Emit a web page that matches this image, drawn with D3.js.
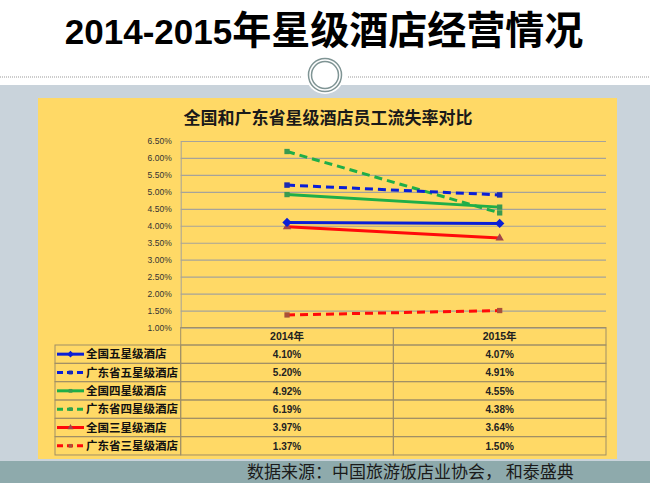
<!DOCTYPE html>
<html lang="zh">
<head>
<meta charset="utf-8">
<title>2014-2015年星级酒店经营情况</title>
<script src="https://cdn.jsdelivr.net/npm/d3@7/dist/d3.min.js"></script>
<style>
  body { margin: 0; background: #fff; }
  svg { display: block; }
  .cjk { font-family: "Noto Sans CJK SC", sans-serif; }
  .num { font-family: "Liberation Sans", Arial, sans-serif; }
</style>
</head>
<body>
<script>
// data
var years = ["2014年", "2015年"];
var seriesNames = ["全国五星级酒店", "广东省五星级酒店", "全国四星级酒店", "广东省四星级酒店", "全国三星级酒店", "广东省三星级酒店"];
var values2014 = [4.10, 5.20, 4.92, 6.19, 3.97, 1.37];
var values2015 = [4.07, 4.91, 4.55, 4.38, 3.64, 1.50];
var yTicks = [1.0, 1.5, 2.0, 2.5, 3.0, 3.5, 4.0, 4.5, 5.0, 5.5, 6.0, 6.5];

var colors = ["#0a1fd6", "#0a1fd6", "#1fae48", "#1fae48", "#ff0a0a", "#ff0a0a"];
var markerColors = ["#0a1fd6", "#1a2ab0", "#3a9a50", "#3a9a50", "#a0454a", "#a8503a"];
var dashed = [false, true, false, true, false, true];
var markers = [d3.symbolSquare, d3.symbolSquare, d3.symbolSquare, d3.symbolSquare, d3.symbolTriangle, d3.symbolSquare];
var markerRotate = [45, 0, 0, 0, 0, 0];
var markerSize = [44, 30, 28, 28, 30, 28];

var w = 650, h = 483;
var svg = d3.select("body").append("svg").attr("width", w).attr("height", h);

// page background
svg.append("rect").attr("x", 0).attr("y", 85).attr("width", w).attr("height", h - 85).attr("fill", "#c9d3db");
svg.append("rect").attr("x", 0).attr("y", 461).attr("width", w).attr("height", 22).attr("fill", "#8eaaac");
svg.append("rect").attr("x", 38).attr("y", 98).attr("width", 579).attr("height", 361).attr("fill", "#ffd966");

// page title
var title = svg.append("text").attr("x", 324).attr("y", 44).attr("text-anchor", "middle")
  .attr("font-weight", "bold").attr("fill", "#000");
title.append("tspan").attr("class", "num").attr("font-size", "35px").text("2014-2015");
title.append("tspan").attr("class", "cjk").attr("font-size", "39px").text("年星级酒店经营情况");

// dotted rule with ornament
svg.append("line").attr("x1", 0).attr("x2", 302).attr("y1", 77).attr("y2", 77)
  .attr("stroke", "#999").attr("stroke-dasharray", "1,1");
svg.append("line").attr("x1", 348).attr("x2", w).attr("y1", 77).attr("y2", 77)
  .attr("stroke", "#999").attr("stroke-dasharray", "1,1");
svg.append("circle").attr("cx", 325).attr("cy", 75).attr("r", 19).attr("fill", "#fff");
svg.append("circle").attr("cx", 325).attr("cy", 75).attr("r", 16.5).attr("fill", "none").attr("stroke", "#7f9494").attr("stroke-width", 1.5);
svg.append("circle").attr("cx", 325).attr("cy", 75).attr("r", 13.5).attr("fill", "none").attr("stroke", "#7f9494").attr("stroke-width", 1.5);

// chart title
svg.append("text").attr("class", "cjk").attr("x", 328).attr("y", 124).attr("text-anchor", "middle")
  .attr("font-size", "17px").attr("font-weight", "bold").attr("fill", "#1a1a1a")
  .text("全国和广东省星级酒店员工流失率对比");

// scales
var plotLeft = 180.7, plotRight = 606, plotTop = 141, plotBottom = 327.5;
var x = d3.scaleBand().domain(years).range([plotLeft, plotRight]);
var y = d3.scaleLinear().domain([1.0, 6.5]).range([plotBottom, plotTop]);

// grid
var yAxis = d3.axisLeft(y).tickValues(yTicks).tickSize(-(plotRight - plotLeft)).tickPadding(9)
  .tickFormat(function(d) { return d.toFixed(2) + "%"; });
var gy = svg.append("g").attr("transform", "translate(" + plotLeft + ",0)").call(yAxis);
gy.select(".domain").attr("stroke", "#a6a39a");
gy.selectAll(".tick line").attr("stroke", "#a6a39a").attr("stroke-width", 1.2);
gy.selectAll(".tick text").attr("class", "num").attr("font-size", "8.5px").attr("fill", "#333");

// lines
var rows = seriesNames.map(function(name, i) {
  return { name: name, i: i, vals: [values2014[i], values2015[i]] };
});
var line = d3.line().x(function(d, j) { return x(years[j]) + x.bandwidth() / 2; }).y(function(d) { return y(d); });

var drawOrder = [5, 4, 0, 2, 3, 1];
drawOrder.forEach(function(i) {
  var r = rows[i];
  svg.append("path").attr("d", line(r.vals)).attr("fill", "none")
    .attr("stroke", colors[i]).attr("stroke-width", 3)
    .attr("stroke-dasharray", dashed[i] ? "8,5" : null);
  r.vals.forEach(function(v, j) {
    svg.append("path")
      .attr("d", d3.symbol().type(markers[i]).size(markerSize[i])())
      .attr("transform", "translate(" + (x(years[j]) + x.bandwidth() / 2) + "," + y(v) + ") rotate(" + markerRotate[i] + ")")
      .attr("fill", markerColors[i]);
  });
});

// data table
var rowH = 18.33, headTop = plotBottom, headH = 17.5, legendLeft = 55;
var border = "#a08f66";
var tbl = svg.append("g");
years.forEach(function(yr, j) {
  tbl.append("rect").attr("x", x(yr)).attr("y", headTop).attr("width", x.bandwidth()).attr("height", headH)
    .attr("fill", "none").attr("stroke", border);
  tbl.append("text").attr("x", x(yr) + x.bandwidth() / 2).attr("y", headTop + 12.5).attr("text-anchor", "middle")
    .attr("font-size", "10.5px").attr("font-weight", "bold").attr("fill", "#222")
    .call(function(t) {
      t.append("tspan").attr("class", "num").text(yr.replace("年", ""));
      t.append("tspan").attr("class", "cjk").text("年");
    });
});

rows.forEach(function(r) {
  var ry = headTop + headH + r.i * rowH;
  tbl.append("rect").attr("x", legendLeft).attr("y", ry).attr("width", plotLeft - legendLeft).attr("height", rowH)
    .attr("fill", "none").attr("stroke", border);
  years.forEach(function(yr, j) {
    tbl.append("rect").attr("x", x(yr)).attr("y", ry).attr("width", x.bandwidth()).attr("height", rowH)
      .attr("fill", "none").attr("stroke", border);
    tbl.append("text").attr("class", "num").attr("x", x(yr) + x.bandwidth() / 2).attr("y", ry + 13)
      .attr("text-anchor", "middle").attr("font-size", "10px").attr("font-weight", "bold").attr("fill", "#222")
      .text(r.vals[j].toFixed(2) + "%");
  });
  var cy = ry + rowH / 2;
  tbl.append("line").attr("x1", 57).attr("x2", 84).attr("y1", cy).attr("y2", cy)
    .attr("stroke", colors[r.i]).attr("stroke-width", 3)
    .attr("stroke-dasharray", dashed[r.i] ? "6,4" : null);
  tbl.append("path").attr("d", d3.symbol().type(markers[r.i]).size(markerSize[r.i] * 0.5)())
    .attr("transform", "translate(70.5," + cy + ") rotate(" + markerRotate[r.i] + ")").attr("fill", markerColors[r.i]);
  tbl.append("text").attr("class", "cjk").attr("x", 86).attr("y", cy + 4.3)
    .attr("font-size", "11.5px").attr("font-weight", "bold").attr("fill", "#111").text(r.name);
});

// source
svg.append("text").attr("class", "cjk").attr("x", 247).attr("y", 478)
  .attr("font-size", "17px").attr("fill", "#1a1a1a")
  .text("数据来源：中国旅游饭店业协会， 和泰盛典");
</script>
</body>
</html>
